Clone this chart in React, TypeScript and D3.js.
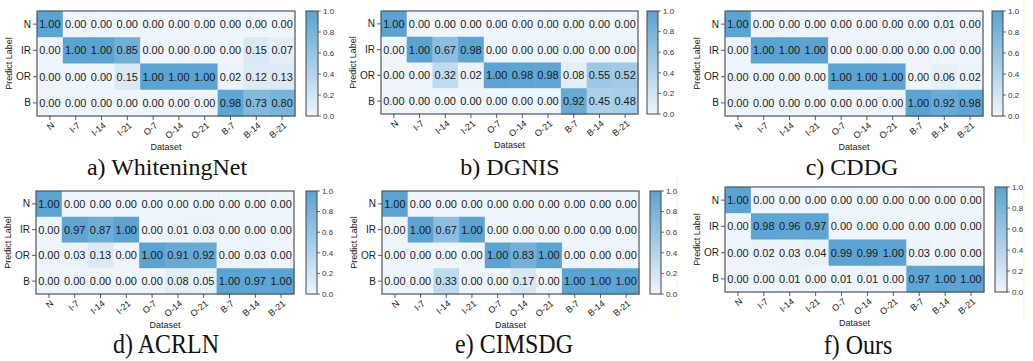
import React from 'react';
import * as d3 from 'd3';

const trueLabels = ['N', 'I-7', 'I-14', 'I-21', 'O-7', 'O-14', 'O-21', 'B-7', 'B-14', 'B-21'];
const predLabels = ['N', 'IR', 'OR', 'B'];
const cbTicks = [0, 0.2, 0.4, 0.6, 0.8, 1.0];

const whiteningNet = [
  [1.0, 0, 0, 0, 0, 0, 0, 0, 0, 0],
  [0, 1.0, 1.0, 0.85, 0, 0, 0, 0, 0.15, 0.07],
  [0, 0, 0, 0.15, 1.0, 1.0, 1.0, 0.02, 0.12, 0.13],
  [0, 0, 0, 0, 0, 0, 0, 0.98, 0.73, 0.8],
];
const dgnis = [
  [1.0, 0, 0, 0, 0, 0, 0, 0, 0, 0],
  [0, 1.0, 0.67, 0.98, 0, 0, 0, 0, 0, 0],
  [0, 0, 0.32, 0.02, 1.0, 0.98, 0.98, 0.08, 0.55, 0.52],
  [0, 0, 0, 0, 0, 0, 0, 0.92, 0.45, 0.48],
];
const cddg = [
  [1.0, 0, 0, 0, 0, 0, 0, 0, 0.01, 0],
  [0, 1.0, 1.0, 1.0, 0, 0, 0, 0, 0, 0],
  [0, 0, 0, 0, 1.0, 1.0, 1.0, 0, 0.06, 0.02],
  [0, 0, 0, 0, 0, 0, 0, 1.0, 0.92, 0.98],
];
const acrln = [
  [1.0, 0, 0, 0, 0, 0, 0, 0, 0, 0],
  [0, 0.97, 0.87, 1.0, 0, 0.01, 0.03, 0, 0, 0],
  [0, 0.03, 0.13, 0, 1.0, 0.91, 0.92, 0, 0.03, 0],
  [0, 0, 0, 0, 0, 0.08, 0.05, 1.0, 0.97, 1.0],
];
const cimsdg = [
  [1.0, 0, 0, 0, 0, 0, 0, 0, 0, 0],
  [0, 1.0, 0.67, 1.0, 0, 0, 0, 0, 0, 0],
  [0, 0, 0, 0, 1.0, 0.83, 1.0, 0, 0, 0],
  [0, 0, 0.33, 0, 0, 0.17, 0, 1.0, 1.0, 1.0],
];
const ours = [
  [1.0, 0, 0, 0, 0, 0, 0, 0, 0, 0],
  [0, 0.98, 0.96, 0.97, 0, 0, 0, 0, 0, 0],
  [0, 0.02, 0.03, 0.04, 0.99, 0.99, 1.0, 0.03, 0, 0],
  [0, 0, 0.01, 0, 0.01, 0.01, 0, 0.97, 1.0, 1.0],
];

const titles = ['a) WhiteningNet', 'b) DGNIS', 'c) CDDG', 'd) ACRLN', 'e) CIMSDG', 'f) Ours'];
const matrices = [whiteningNet, dgnis, cddg, acrln, cimsdg, ours];

// panel boxes: heatmap [x0, x1, y0, y1], colorbar [cx0, cx1], caption [cx, cy, scaleY]
const layout = [
  { hm: [37, 295, 11, 116], cb: [306, 318], cap: [167, 175, 1] },
  { hm: [381, 638, 11, 114], cb: [647, 658], cap: [510, 175, 1] },
  { hm: [725, 983, 11, 116], cb: [992, 1003], cap: [852, 175, 1] },
  { hm: [36, 294, 191, 294], cb: [306, 317], cap: [166, 353, 1.1] },
  { hm: [382, 639, 191, 294], cb: [650, 661], cap: [514, 353, 1.1] },
  { hm: [725, 984, 187, 292], cb: [995, 1007], cap: [858, 354, 1.1] },
];

const lo = '#eff5fc';
const hi = '#5aa3d2';
const color = d3.scaleLinear<string>().domain([0, 1]).range([lo, hi]).interpolate(d3.interpolateRgb);

const sans = 'Arial, "Liberation Sans", sans-serif';

const Panel = ({ idx }: { idx: number }) => {
  const m = matrices[idx];
  const { hm, cb, cap } = layout[idx];
  const [x0, x1, y0, y1] = hm;
  const x = d3.scaleBand().domain(trueLabels).range([x0, x1]);
  const y = d3.scaleBand().domain(predLabels).range([y0, y1]);
  const cy = d3.scaleLinear().domain([0, 1]).range([y1, y0]);
  const gid = `cbgrad${idx}`;
  return (
    <g>
      <defs>
        <linearGradient id={gid} x1="0" y1="1" x2="0" y2="0">
          <stop offset="0%" stopColor={lo} />
          <stop offset="100%" stopColor={hi} />
        </linearGradient>
      </defs>
      {m.map((row, r) =>
        row.map((v, c) => (
          <g key={`${r}-${c}`}>
            <rect
              x={x(trueLabels[c])!}
              y={y(predLabels[r])!}
              width={x.bandwidth() + 0.5}
              height={y.bandwidth() + 0.5}
              fill={color(v)}
            />
            <text
              x={x(trueLabels[c])! + x.bandwidth() / 2}
              y={y(predLabels[r])! + y.bandwidth() / 2}
              dy="0.36em"
              textAnchor="middle"
              fontSize={11}
              fontFamily={sans}
              fill="#1a1a1a"
            >
              {v.toFixed(2)}
            </text>
          </g>
        ))
      )}
      <rect x={x0} y={y0} width={x1 - x0} height={y1 - y0} fill="none" stroke="#555" strokeWidth={1.2} />
      {predLabels.map((p) => {
        const py = y(p)! + y.bandwidth() / 2;
        return (
          <g key={p}>
            <line x1={x0 - 4} x2={x0} y1={py} y2={py} stroke="#333" strokeWidth={0.8} />
            <text x={x0 - 6} y={py} dy="0.35em" textAnchor="end" fontSize={10} fontFamily={sans} fill="#222">
              {p}
            </text>
          </g>
        );
      })}
      {trueLabels.map((t) => {
        const px = x(t)! + x.bandwidth() / 2;
        return (
          <g key={t}>
            <line x1={px} x2={px} y1={y1} y2={y1 + 4} stroke="#333" strokeWidth={0.8} />
            <text
              transform={`translate(${px + 3},${y1 + 8}) rotate(-40)`}
              textAnchor="end"
              dy="0.35em"
              fontSize={9}
              fontFamily={sans}
              fill="#222"
            >
              {t}
            </text>
          </g>
        );
      })}
      <text x={(x0 + x1) / 2} y={y1 + 34} textAnchor="middle" fontSize={9} fontFamily={sans} fill="#222">
        Dataset
      </text>
      <text
        transform={`translate(${x0 - 25},${(y0 + y1) / 2}) rotate(-90)`}
        textAnchor="middle"
        fontSize={9}
        fontFamily={sans}
        fill="#222"
      >
        Predict Label
      </text>
      <rect x={cb[0]} y={y0} width={cb[1] - cb[0]} height={y1 - y0} fill={`url(#${gid})`} stroke="#444" strokeWidth={1} />
      {cbTicks.map((t) => (
        <g key={t}>
          <line x1={cb[1]} x2={cb[1] + 3} y1={cy(t)} y2={cy(t)} stroke="#444" strokeWidth={0.8} />
          <text x={cb[1] + 5} y={cy(t)} dy="0.35em" fontSize={8} fontFamily={sans} fill="#333">
            {t.toFixed(1)}
          </text>
        </g>
      ))}
      <text
        transform={`translate(${cap[0]},${cap[1]}) scale(1,${cap[2]})`}
        textAnchor="middle"
        fontSize={24}
        fontFamily='"Times New Roman", "Liberation Serif", serif'
        fill="#111"
      >
        {titles[idx]}
      </text>
    </g>
  );
};

const App = () => (
  <svg width={1033} height={361} style={{ position: 'absolute', left: 0, top: 0, background: '#fff' }}>
    <rect width={1033} height={361} fill="#fff" />
    <line x1={1024} x2={1024} y1={0} y2={140} stroke="#fbf2c0" strokeWidth={1} />
    <line x1={677} x2={677} y1={178} y2={320} stroke="#fbf2c0" strokeWidth={1} />
    <line x1={1024} x2={1024} y1={178} y2={320} stroke="#fbf2c0" strokeWidth={1} />
    {matrices.map((_, i) => (
      <Panel key={i} idx={i} />
    ))}
  </svg>
);

export default App;
